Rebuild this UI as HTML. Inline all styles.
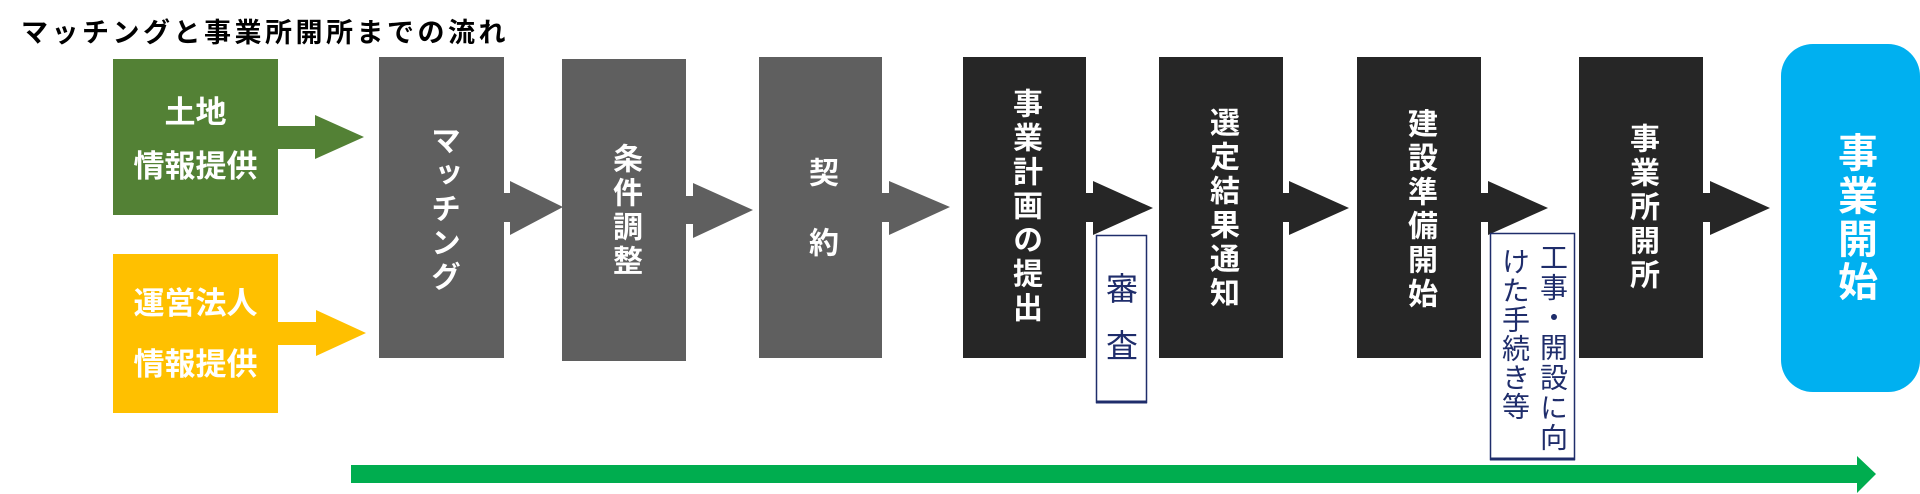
<!DOCTYPE html>
<html><head><meta charset="utf-8"><style>
html,body{margin:0;padding:0;background:#fff;}
body{width:1920px;height:494px;position:relative;overflow:hidden;font-family:"Liberation Sans","Noto Sans CJK JP",sans-serif;}
.a{position:absolute;}
.v{position:absolute;writing-mode:vertical-rl;font-weight:bold;color:#fff;font-size:30px;line-height:30px;letter-spacing:4px;white-space:nowrap;}
.h{position:absolute;color:#fff;font-weight:bold;font-size:31px;text-align:center;width:165px;}
</style></head><body>
<div class="a" style="left:21px;top:11px;font-size:27px;font-weight:bold;color:#000;letter-spacing:3.5px;">マッチングと事業所開所までの流れ</div>
<svg class="a" style="left:0;top:0" width="1920" height="494">
<rect x="113" y="59" width="165" height="156" fill="#538135"/>
<rect x="113" y="254" width="165" height="159" fill="#ffc000"/>
<polygon points="278,126 315,126 315,115 364,137 315,159 315,149 278,149" fill="#538135"/>
<polygon points="278,322 316,322 316,310 366,333 316,356 316,345 278,345" fill="#ffc000"/>
<rect x="379" y="57" width="125" height="301" fill="#5f5f5f"/>
<rect x="562" y="59" width="124" height="302" fill="#5f5f5f"/>
<rect x="759" y="57" width="123" height="301" fill="#5f5f5f"/>
<polygon points="504,193 510,193 510,181 563,207 510,235 510,222 504,222" fill="#5f5f5f"/>
<polygon points="686,196 693,196 693,183 753,210 693,238 693,224 686,224" fill="#5f5f5f"/>
<polygon points="882,193 889,193 889,181 950,207 889,235 889,222 882,222" fill="#5f5f5f"/>
<rect x="963" y="57" width="123" height="301" fill="#262626"/>
<rect x="1159" y="57" width="124" height="301" fill="#262626"/>
<rect x="1357" y="57" width="124" height="301" fill="#262626"/>
<rect x="1579" y="57" width="124" height="301" fill="#262626"/>
<polygon points="1086,193 1093,193 1093,181 1153,208 1093,235 1093,222 1086,222" fill="#262626"/>
<polygon points="1283,193 1289,193 1289,181 1349,208 1289,235 1289,222 1283,222" fill="#262626"/>
<polygon points="1481,193 1488,193 1488,181 1548,208 1488,235 1488,222 1481,222" fill="#262626"/>
<polygon points="1703,193 1710,193 1710,181 1770,208 1710,235 1710,222 1703,222" fill="#262626"/>
<rect x="1096.5" y="235.5" width="50" height="167" fill="#fff" stroke="#1f2d6b" stroke-width="1.5"/>
<line x1="1096" y1="402" x2="1147" y2="402" stroke="#1f2d6b" stroke-width="3"/>
<rect x="1490.5" y="233.5" width="84" height="226" fill="#fff" stroke="#1f2d6b" stroke-width="1.5"/>
<line x1="1490" y1="459" x2="1575" y2="459" stroke="#1f2d6b" stroke-width="3"/>
<rect x="1781" y="44" width="139" height="348" rx="32" fill="#00b0f0"/>
<polygon points="351,465 1857,465 1857,456 1876,474 1857,493 1857,483 351,483" fill="#00ad4f"/>
</svg>
<div class="h" style="left:113px;top:86px;line-height:54px;">土地<br>情報提供</div>
<div class="h" style="left:113px;top:273px;line-height:61px;">運営法人<br>情報提供</div>
<div class="v" style="left:427px;top:125px;">マッチング</div>
<div class="v" style="left:609px;top:143px;">条件調整</div>
<div class="v" style="left:805px;top:157px;letter-spacing:40px;">契約</div>
<div class="v" style="left:1009px;top:88px;">事業計画の提出</div>
<div class="v" style="left:1206px;top:107px;">選定結果通知</div>
<div class="v" style="left:1404px;top:108px;">建設準備開始</div>
<div class="v" style="left:1626px;top:123px;">事業所開所</div>
<div class="v" style="left:1834px;top:132px;font-size:40px;line-height:40px;letter-spacing:3px;">事業開始</div>
<div class="v" style="left:1104px;top:272px;font-weight:normal;color:#1f2d6b;font-size:32px;line-height:32px;letter-spacing:25px;">審査</div>
<div class="v" style="left:1538px;top:243px;font-weight:normal;color:#1f2d6b;font-size:28px;line-height:28px;letter-spacing:2px;">工事・開設に向</div>
<div class="v" style="left:1500px;top:247px;font-weight:normal;color:#1f2d6b;font-size:28px;line-height:28px;letter-spacing:1px;">けた手続き等</div>
</body></html>
